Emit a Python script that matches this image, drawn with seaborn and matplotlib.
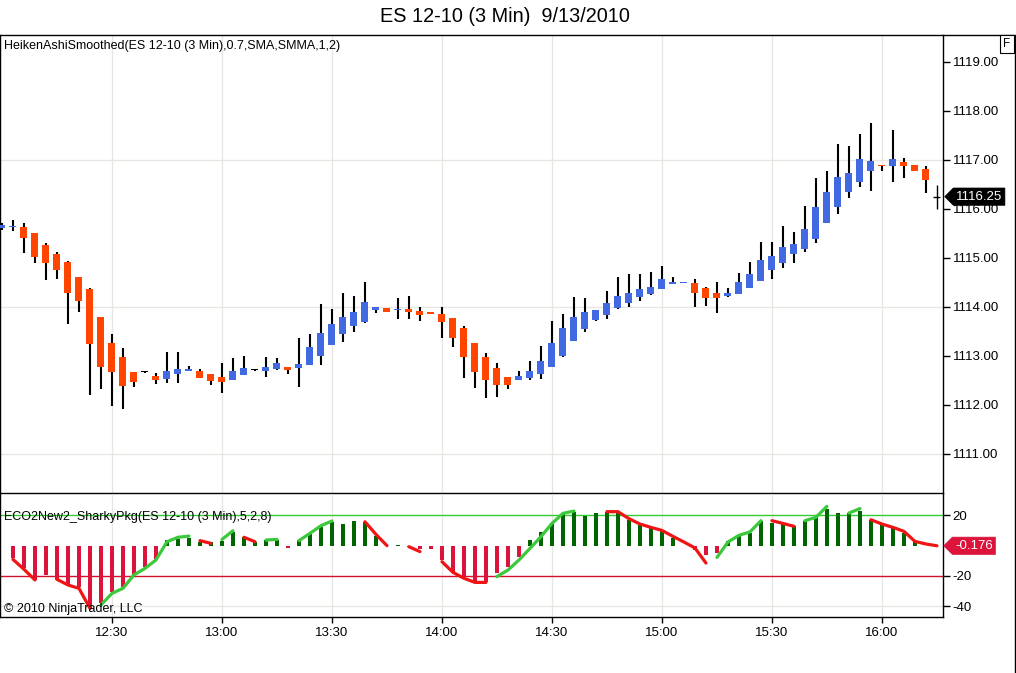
import numpy as np
import pandas as pd
import matplotlib
matplotlib.use("Agg")
import matplotlib.pyplot as plt
import seaborn as sns
from matplotlib.path import Path
from matplotlib.lines import Line2D

# ==============================
# Data
# ==============================
title = "ES 12-10 (3 Min)  9/13/2010"
price_label = "HeikenAshiSmoothed(ES 12-10 (3 Min),0.7,SMA,SMMA,1,2)"
osc_label = "ECO2New2_SharkyPkg(ES 12-10 (3 Min),5,2,8)"
copyright_label = "\u00a9 2010 NinjaTrader, LLC"

bar_times = pd.date_range("2010-09-13 12:00", periods=86, freq="3min")
time_ticks = ["12:30", "13:00", "13:30", "14:00", "14:30", "15:00", "15:30", "16:00"]

ha_open = [1115.60, 1115.63, 1115.63, 1115.51, 1115.27, 1115.08, 1114.92, 1114.61, 1114.37, 1113.80,
           1113.27, 1112.98, 1112.67, 1112.67, 1112.59, 1112.53, 1112.63, 1112.70, 1112.69, 1112.63,
           1112.57, 1112.51, 1112.61, 1112.71, 1112.69, 1112.73, 1112.78, 1112.76, 1112.82, 1113.00,
           1113.22, 1113.45, 1113.61, 1113.69, 1113.94, 1113.98, 1113.94, 1113.96, 1113.92, 1113.88,
           1113.86, 1113.78, 1113.57, 1113.27, 1112.98, 1112.76, 1112.57, 1112.51, 1112.55, 1112.63,
           1112.78, 1113.00, 1113.31, 1113.55, 1113.73, 1113.84, 1113.98, 1114.08, 1114.20, 1114.27,
           1114.37, 1114.47, 1114.49, 1114.49, 1114.39, 1114.29, 1114.22, 1114.27, 1114.39, 1114.53,
           1114.76, 1114.90, 1115.08, 1115.18, 1115.39, 1115.71, 1116.04, 1116.35, 1116.55, 1116.78,
           1116.90, 1116.88, 1116.96, 1116.90, 1116.82]
ha_high = [1115.72, 1115.78, 1115.71, 1115.51, 1115.31, 1115.12, 1114.94, 1114.61, 1114.39, 1113.80,
           1113.45, 1113.16, 1112.67, 1112.69, 1112.65, 1113.08, 1113.08, 1112.80, 1112.73, 1112.63,
           1112.86, 1112.96, 1113.00, 1112.73, 1112.98, 1112.96, 1112.78, 1113.37, 1113.45, 1114.06,
           1113.96, 1114.29, 1114.22, 1114.51, 1114.00, 1113.98, 1114.18, 1114.22, 1114.00, 1113.88,
           1114.00, 1113.78, 1113.61, 1113.27, 1113.06, 1112.86, 1112.57, 1112.69, 1112.90, 1113.20,
           1113.71, 1113.86, 1114.20, 1114.18, 1113.94, 1114.33, 1114.61, 1114.67, 1114.67, 1114.71,
           1114.84, 1114.61, 1114.51, 1114.57, 1114.41, 1114.51, 1114.39, 1114.69, 1114.92, 1115.33,
           1115.33, 1115.65, 1115.53, 1116.06, 1116.63, 1116.78, 1117.33, 1117.29, 1117.53, 1117.76,
           1116.90, 1117.61, 1117.04, 1116.90, 1116.88]
ha_low = [1115.57, 1115.55, 1115.10, 1114.90, 1114.55, 1114.57, 1113.65, 1113.90, 1112.20, 1112.33,
          1111.98, 1111.92, 1112.37, 1112.65, 1112.43, 1112.45, 1112.45, 1112.69, 1112.55, 1112.41,
          1112.24, 1112.51, 1112.61, 1112.69, 1112.57, 1112.71, 1112.63, 1112.37, 1112.82, 1112.82,
          1113.22, 1113.29, 1113.49, 1113.67, 1113.88, 1113.90, 1113.76, 1113.76, 1113.71, 1113.86,
          1113.37, 1113.18, 1112.55, 1112.35, 1112.14, 1112.16, 1112.33, 1112.51, 1112.51, 1112.53,
          1112.78, 1112.98, 1113.31, 1113.49, 1113.71, 1113.76, 1113.96, 1114.00, 1114.12, 1114.24,
          1114.37, 1114.47, 1114.49, 1114.00, 1114.02, 1113.88, 1114.20, 1114.27, 1114.39, 1114.53,
          1114.57, 1114.80, 1114.90, 1115.12, 1115.31, 1115.71, 1115.90, 1116.22, 1116.45, 1116.37,
          1116.78, 1116.55, 1116.63, 1116.78, 1116.33]
ha_close = [1115.67, 1115.65, 1115.41, 1115.02, 1114.90, 1114.76, 1114.29, 1114.12, 1113.24, 1112.78,
            1112.67, 1112.39, 1112.47, 1112.67, 1112.51, 1112.69, 1112.73, 1112.73, 1112.55, 1112.49,
            1112.47, 1112.69, 1112.76, 1112.71, 1112.78, 1112.86, 1112.71, 1112.84, 1113.18, 1113.47,
            1113.65, 1113.80, 1113.90, 1114.10, 1114.00, 1113.90, 1113.96, 1113.90, 1113.84, 1113.86,
            1113.69, 1113.37, 1112.98, 1112.67, 1112.51, 1112.41, 1112.41, 1112.59, 1112.69, 1112.90,
            1113.27, 1113.57, 1113.80, 1113.90, 1113.94, 1114.08, 1114.22, 1114.29, 1114.37, 1114.41,
            1114.57, 1114.51, 1114.51, 1114.29, 1114.18, 1114.18, 1114.29, 1114.51, 1114.67, 1114.96,
            1115.04, 1115.22, 1115.29, 1115.59, 1116.04, 1116.35, 1116.65, 1116.73, 1117.02, 1116.98,
            1116.88, 1117.02, 1116.88, 1116.78, 1116.59]

# the bar still forming at 16:15
cur_high, cur_low, cur_close = 1116.49, 1116.00, 1116.25

osc_hist = [0.0, -8.4, -15.0, -22.6, -19.3, -22.6, -25.9, -27.4, -41.2, -37.9,
            -30.3, -27.4, -19.3, -13.9, -9.1, 3.6, 4.0, 4.7, 2.5, 2.5,
            3.0, 9.0, 5.4, 2.5, 3.6, 3.6, -1.8, 3.6, 8.0, 12.3,
            15.6, 13.9, 16.1, 15.2, 6.5, 0.0, 0.3, -0.8, -2.0, -2.5,
            -9.5, -17.2, -20.4, -23.7, -23.7, -18.3, -13.9, -7.3, 3.6, 9.1,
            14.5, 21.1, 22.2, 19.6, 21.1, 21.7, 21.1, 17.0, 13.7, 11.5,
            9.3, 4.9, 0.0, -2.7, -6.0, -4.9, 2.7, 7.1, 8.2, 15.8,
            14.8, 15.0, 12.6, 16.3, 18.5, 24.2, 21.3, 21.3, 22.8, 16.9,
            14.1, 11.5, 8.2, 2.7, 0.0, 0.0]

osc_line = [np.nan, -9.1, -15.6, -22.6, -21.0, -22.2, -25.9, -28.1, -41.2, -39.0,
            -31.4, -28.1, -19.3, -15.0, -9.5, 2.5, 5.4, 6.2, 3.2, 1.4,
            4.0, 9.7, 5.4, 2.5, 3.6, 4.0, -1.5, 3.2, 8.0, 13.0,
            16.1, 15.0, 16.0, 15.6, 7.3, -0.1, 0.3, -0.8, -4.0, -2.0,
            -10.6, -17.6, -21.5, -24.2, -24.2, -20.4, -16.1, -9.5, -1.9, 5.8,
            14.5, 21.1, 22.6, 21.0, 21.5, 22.2, 22.2, 17.6, 14.1, 11.9,
            9.9, 6.0, 2.3, -1.6, -11.5, -7.8, 2.3, 6.7, 8.9, 16.3,
            16.3, 14.5, 12.6, 16.3, 18.5, 25.7, 22.0, 21.3, 24.2, 16.9,
            14.1, 11.9, 9.3, 2.7, 1.0, -0.176]

# colour of the line segment that ends on each bar ("" = not drawn)
osc_seg = ["", "", "r", "r", "", "", "r", "r", "r", "",
           "g", "g", "g", "g", "g", "g", "g", "g", "", "r",
           "", "g", "", "r", "", "g", "", "", "g", "g",
           "g", "", "", "", "r", "r", "", "", "r", "",
           "", "r", "r", "r", "r", "", "g", "g", "g", "g",
           "g", "g", "g", "", "", "", "r", "r", "r", "r",
           "r", "r", "r", "r", "r", "", "g", "g", "g", "g",
           "", "r", "r", "", "g", "g", "", "", "g", "",
           "r", "r", "r", "r", "r", "r"]

osc_levels = [20, -20]

# ==============================
# Style
# ==============================
UP = "#4169E1"
DOWN = "#FF4500"
GRID = "#E8E6E0"
LINE_COLORS = {"g": "#3CC83C", "r": "#F01414"}

sns.set_theme(style="white")
plt.rcParams["font.family"] = ["Liberation Sans", "DejaVu Sans"]

W, H = 1016, 673
fig = plt.figure(figsize=(W / 100, H / 100), dpi=100)
ax1 = fig.add_axes([0.0, 1 - 493 / H, 943 / W, 458 / H])
ax2 = fig.add_axes([0.0, 1 - 617 / H, 943 / W, 123 / H])
ax2.patch.set_alpha(0)

labels_hm = list(bar_times.strftime("%H:%M"))
tick_pos = [i for i, t in enumerate(labels_hm) if t in time_ticks]
tick_lab = [labels_hm[i] for i in tick_pos]


def tag_box(x0, y0, width, height, mutation_size):
    # price tag: box with a pointed left side
    pad = 0.2 * mutation_size
    x0, y0 = x0 - pad, y0 - pad
    x1, y1 = x0 + width + 2 * pad, y0 + height + 2 * pad
    ym = (y0 + y1) / 2
    tip = (y1 - y0) / 2
    verts = [(x0 - tip, ym), (x0, y0), (x1, y0), (x1, y1), (x0, y1), (x0 - tip, ym)]
    codes = [Path.MOVETO] + [Path.LINETO] * 4 + [Path.CLOSEPOLY]
    return Path(verts, codes)


# ==============================
# Upper panel: Heiken Ashi candles
# ==============================
o = np.array(ha_open)
c = np.array(ha_close)
x_ha = np.arange(len(o))
body_col = np.where(c > o, UP, np.where(c < o, DOWN, "black"))
body_h = np.maximum(np.abs(c - o), 0.025)

for lvl in [1111, 1114, 1117]:
    ax1.axhline(lvl, color=GRID, lw=0.9, zorder=0)
for p in tick_pos:
    ax1.axvline(p, color=GRID, lw=0.9, zorder=0)

ax1.vlines(x_ha, ha_low, ha_high, color="black", lw=1.5, zorder=2)
ax1.bar(x_ha, body_h, bottom=np.minimum(o, c), width=0.64, color=body_col,
        linewidth=0, zorder=3)

cur_x = len(o)
ax1.vlines(cur_x, cur_low, cur_high, color="black", lw=1, zorder=3)
ax1.hlines(cur_close, cur_x - 0.32, cur_x + 0.32, color="black", lw=1, zorder=3)

ax1.set_xlim(-0.18, 85.55)
ax1.set_ylim(1110.20, 1119.55)
ax1.yaxis.tick_right()
yt = list(range(1111, 1120))
ax1.set_yticks(yt)
ax1.set_yticklabels([f"{v:.2f}" for v in yt])
ax1.set_xticks(tick_pos)
ax1.set_xticklabels([])
ax1.tick_params(axis="y", direction="out", length=5, width=1, pad=2,
                labelsize=9.5, colors="black", right=True, left=False)
ax1.tick_params(axis="x", length=0)
ax1.text(4 / 943, 1 - 11 / 458, price_label, transform=ax1.transAxes,
         ha="left", va="center", fontsize=9, color="black", zorder=6)

ax1.annotate(f"{cur_close:.2f}", xy=(1, cur_close), xycoords=ax1.get_yaxis_transform(),
             xytext=(13, 0), textcoords="offset pixels", ha="left", va="center",
             fontsize=9.5, color="white",
             bbox=dict(boxstyle=tag_box, fc="black", ec="black", lw=0.5))

# ==============================
# Lower panel: oscillator
# ==============================
osc = pd.DataFrame({"bar": np.arange(len(osc_hist)), "value": osc_hist})
osc["side"] = np.where(osc["value"] >= 0, "up", "down")

for p in tick_pos:
    ax2.axvline(p, color=GRID, lw=0.9, zorder=0)
for lvl in [-40]:
    ax2.axhline(lvl, color=GRID, lw=0.9, zorder=0)

sns.barplot(data=osc, x="bar", y="value", hue="side",
            palette={"up": "#006400", "down": "#DC143C"},
            native_scale=True, width=0.3, dodge=False, errorbar=None,
            saturation=1, linewidth=0, legend=False, ax=ax2, zorder=2)

ax2.axhline(osc_levels[0], color="#32CD32", lw=1, zorder=1)
ax2.axhline(osc_levels[1], color="#D0102C", lw=1, zorder=1)

# group consecutive segments of the same colour into one polyline
run, run_col = [], ""
for i in range(1, len(osc_line)):
    col = osc_seg[i]
    if col and col == run_col:
        run.append(i)
    else:
        if len(run) > 1:
            ax2.plot(run, [osc_line[k] for k in run], color=LINE_COLORS[run_col],
                     lw=2.3, solid_capstyle="round", solid_joinstyle="round", zorder=4)
        run, run_col = ([i - 1, i], col) if col else ([], "")
if len(run) > 1:
    ax2.plot(run, [osc_line[k] for k in run], color=LINE_COLORS[run_col],
             lw=2.3, solid_capstyle="round", solid_joinstyle="round", zorder=4)

ax2.set_xlim(-0.18, 85.55)
ax2.set_ylim(-46.9, 33.8)
ax2.set_xlabel("")
ax2.set_ylabel("")
ax2.yaxis.tick_right()
ax2.set_yticks([20, -20, -40])
ax2.set_yticklabels(["20", "-20", "-40"])
ax2.set_xticks(tick_pos)
ax2.set_xticklabels(tick_lab)
ax2.tick_params(axis="y", direction="out", length=5, width=1, pad=2,
                labelsize=9.5, colors="black", right=True, left=False)
ax2.tick_params(axis="x", direction="out", length=4, width=1, pad=3,
                labelsize=9.5, colors="black", bottom=True)
ax2.text(4 / 943, 1 - 23 / 123, osc_label, transform=ax2.transAxes,
         ha="left", va="center", fontsize=9, color="black", zorder=6)
ax2.text(4 / 943, 1 - 115 / 123, copyright_label, transform=ax2.transAxes,
         ha="left", va="center", fontsize=9, color="black", zorder=6)

ax2.annotate(f"{osc_line[-1]:.3f}", xy=(1, osc_line[-1]), xycoords=ax2.get_yaxis_transform(),
             xytext=(12, 0), textcoords="offset pixels", ha="left", va="center",
             fontsize=9.5, color="white",
             bbox=dict(boxstyle=tag_box, fc="#DC143C", ec="#DC143C", lw=0.5))

for ax in (ax1, ax2):
    for s in ax.spines.values():
        s.set_color("black")
        s.set_linewidth(1)
    ax.grid(False)
ax2.spines["top"].set_visible(False)

# ==============================
# Frame, title, "F" box
# ==============================
fig.add_artist(Line2D([943 / W, 1015 / W], [1 - 35 / H, 1 - 35 / H], color="black", lw=1))
fig.add_artist(Line2D([1015 / W, 1015 / W], [1 - 35 / H, 0], color="black", lw=1))
fig.text(505 / W, 1 - 17 / H, title, ha="center", va="center", fontsize=14.3, color="black")
fig.text(1007 / W, 1 - 44 / H, "F", ha="center", va="center", fontsize=8.5, color="black",
         bbox=dict(boxstyle="square,pad=0.25", fc="white", ec="black", lw=0.8))

fig.savefig("out.png", dpi=100, facecolor="white")
